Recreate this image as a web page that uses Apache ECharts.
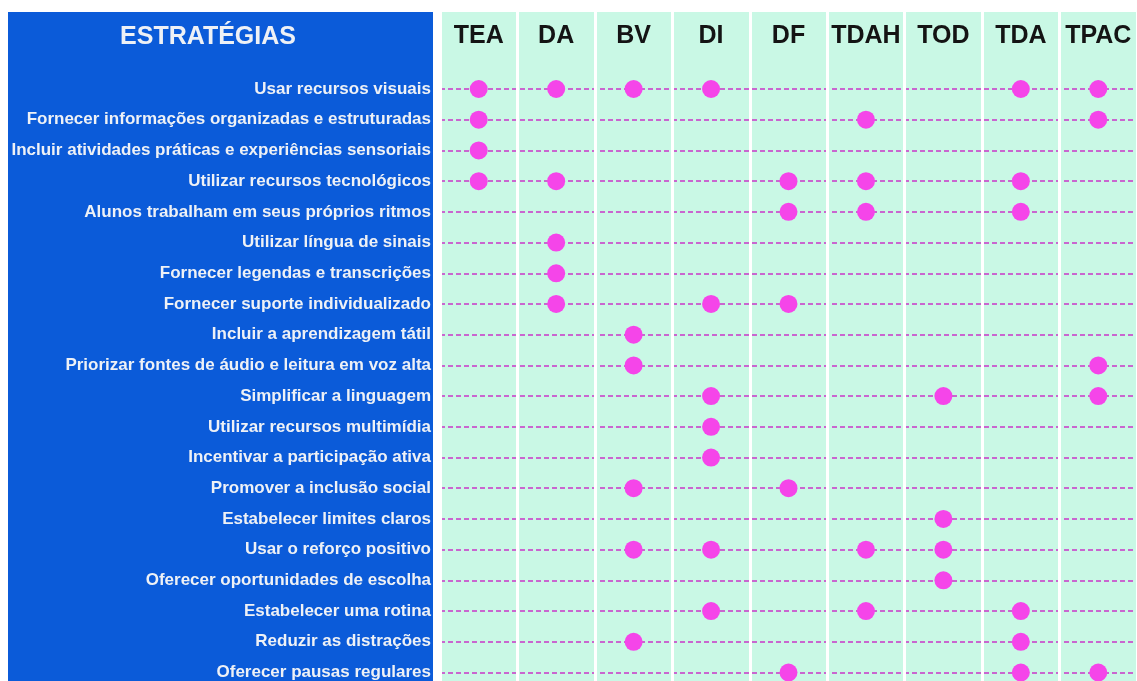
<!DOCTYPE html>
<html>
<head>
<meta charset="utf-8">
<script src="https://cdn.jsdelivr.net/npm/echarts@6/dist/echarts.min.js"></script>
<style>
html,body{margin:0;padding:0;background:#fff;}
#chart{width:1137px;height:681px;}
</style>
</head>
<body>
<div id="chart"></div>
<script>
const columns = ['TEA', 'DA', 'BV', 'DI', 'DF', 'TDAH', 'TOD', 'TDA', 'TPAC'];

const strategies = [
  'Usar recursos visuais',
  'Fornecer informações organizadas e estruturadas',
  'Incluir atividades práticas e experiências sensoriais',
  'Utilizar recursos tecnológicos',
  'Alunos trabalham em seus próprios ritmos',
  'Utilizar língua de sinais',
  'Fornecer legendas e transcrições',
  'Fornecer suporte individualizado',
  'Incluir a aprendizagem tátil',
  'Priorizar fontes de áudio e leitura em voz alta',
  'Simplificar a linguagem',
  'Utilizar recursos multimídia',
  'Incentivar a participação ativa',
  'Promover a inclusão social',
  'Estabelecer limites claros',
  'Usar o reforço positivo',
  'Oferecer oportunidades de escolha',
  'Estabelecer uma rotina',
  'Reduzir as distrações',
  'Oferecer pausas regulares'
];

// columns marked for each strategy (same order as strategies)
const marks = [
  ['TEA', 'DA', 'BV', 'DI', 'TDA', 'TPAC'],
  ['TEA', 'TDAH', 'TPAC'],
  ['TEA'],
  ['TEA', 'DA', 'DF', 'TDAH', 'TDA'],
  ['DF', 'TDAH', 'TDA'],
  ['DA'],
  ['DA'],
  ['DA', 'DI', 'DF'],
  ['BV'],
  ['BV', 'TPAC'],
  ['DI', 'TOD', 'TPAC'],
  ['DI'],
  ['DI'],
  ['BV', 'DF'],
  ['TOD'],
  ['BV', 'DI', 'TDAH', 'TOD'],
  ['TOD'],
  ['DI', 'TDAH', 'TDA'],
  ['BV', 'TDA'],
  ['DF', 'TDA', 'TPAC']
];

const panelTitle = 'ESTRATÉGIAS';

const points = [];
strategies.forEach((s, i) => {
  marks[i].forEach(c => points.push([c, s]));
});

const FONT = '"Liberation Sans", Arial, sans-serif';

const chart = echarts.init(document.getElementById('chart'));
chart.setOption({
  animation: false,
  backgroundColor: '#ffffff',
  graphic: [
    {
      type: 'rect', z: -10, silent: true,
      shape: { x: 8, y: 12, width: 425, height: 700 },
      style: { fill: '#0b5bd9' }
    },
    {
      type: 'text', z: 10, silent: true,
      x: 208, y: 37,
      style: {
        text: panelTitle, fill: '#eef1f6',
        font: 'bold 25px ' + FONT,
        align: 'center', verticalAlign: 'middle'
      }
    }
  ],
  grid: [
    { left: 440, right: -4, top: 12, bottom: -20, show: true,
      backgroundColor: '#c9f8e5', borderWidth: 0 },
    { left: 440, right: -4, top: 89, bottom: 8, show: false }
  ],
  xAxis: [
    {
      gridIndex: 0, type: 'category', data: columns, position: 'top',
      boundaryGap: true,
      axisLine: { show: false }, axisTick: { show: false },
      axisLabel: {
        inside: true, margin: 12, color: '#141414', interval: 0,
        fontFamily: FONT, fontWeight: 'bold', fontSize: 25
      },
      splitLine: { show: true, interval: 0, lineStyle: { color: '#ffffff', width: 3 } }
    },
    {
      gridIndex: 1, type: 'category', data: columns, boundaryGap: true,
      axisLine: { show: false }, axisTick: { show: false },
      axisLabel: { show: false }, splitLine: { show: false }
    }
  ],
  yAxis: [
    {
      gridIndex: 0, type: 'value', min: 0, max: 1, show: false
    },
    {
      gridIndex: 1, type: 'category', data: strategies, inverse: true,
      boundaryGap: false,
      axisLine: { show: false }, axisTick: { show: false },
      axisLabel: {
        margin: 9, color: '#eef1f6', fontFamily: FONT,
        fontWeight: 'bold', fontSize: 17, interval: 0
      },
      splitLine: {
        show: true, interval: 0,
        lineStyle: { color: '#c966cf', width: 2, type: [5, 3] }
      }
    }
  ],
  series: [
    {
      type: 'scatter', xAxisIndex: 1, yAxisIndex: 1,
      data: points, symbol: 'circle', symbolSize: 18,
      itemStyle: { color: '#f545e9', opacity: 1 },
      z: 5
    }
  ]
});
</script>
</body>
</html>
